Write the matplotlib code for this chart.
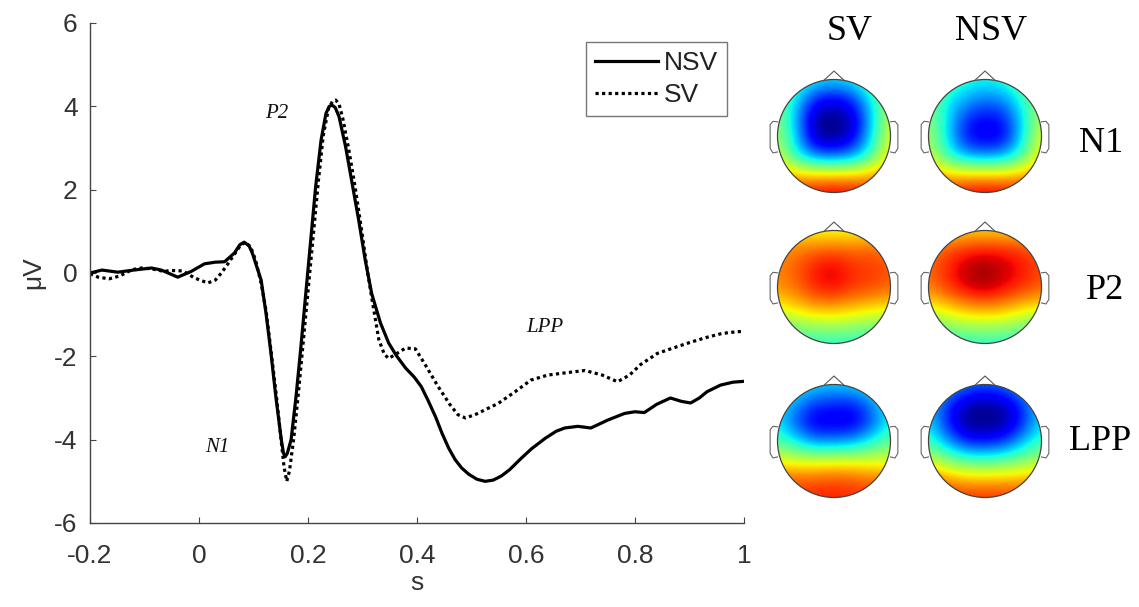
import matplotlib
matplotlib.use("Agg")
import numpy as np
import matplotlib.pyplot as plt
from matplotlib.patches import Circle
from matplotlib.path import Path
from matplotlib.patches import PathPatch

plt.rcParams['font.family'] = ['Liberation Sans', 'DejaVu Sans']
plt.rcParams['axes.unicode_minus'] = False

# ERP waveform, NSV (solid)
t_nsv = [-0.2, -0.178, -0.149, -0.12, -0.087, -0.069, -0.039, -0.014, 0.01, 0.03,
         0.047, 0.065, 0.075, 0.083, 0.092, 0.098, 0.106, 0.114, 0.123, 0.132,
         0.141, 0.151, 0.155, 0.158, 0.162, 0.169, 0.178, 0.187, 0.196, 0.205,
         0.214, 0.224, 0.233, 0.239, 0.244, 0.25, 0.257, 0.269, 0.281, 0.293,
         0.305, 0.317, 0.333, 0.348, 0.362, 0.379, 0.395, 0.408, 0.42, 0.434,
         0.446, 0.458, 0.47, 0.482, 0.495, 0.51, 0.525, 0.54, 0.555, 0.57,
         0.591, 0.61, 0.635, 0.655, 0.671, 0.695, 0.719, 0.75, 0.781, 0.8,
         0.817, 0.84, 0.865, 0.885, 0.902, 0.918, 0.932, 0.957, 0.98, 1.0]
v_nsv = [0.0, 0.07, 0.02, 0.07, 0.12, 0.07, -0.1, 0.04, 0.22, 0.26,
         0.27, 0.48, 0.68, 0.74, 0.65, 0.47, 0.15, -0.17, -0.97, -1.92,
         -2.97, -4.0, -4.32, -4.41, -4.33, -4.0, -2.97, -1.77, -0.48, 0.79,
         2.07, 3.19, 3.83, 4.0, 4.03, 3.97, 3.75, 3.03, 2.15, 1.27,
         0.31, -0.5, -1.2, -1.68, -1.98, -2.28, -2.5, -2.73, -3.05, -3.45,
         -3.85, -4.2, -4.48, -4.68, -4.83, -4.95, -5.0, -4.97, -4.87, -4.72,
         -4.45, -4.22, -3.97, -3.8, -3.72, -3.68, -3.72, -3.53, -3.37, -3.33,
         -3.35, -3.15, -3.0, -3.08, -3.12, -3.0, -2.85, -2.69, -2.62, -2.6]

# ERP waveform, SV (dotted)
t_sv = [-0.2, -0.185, -0.165, -0.145, -0.123, -0.105, -0.087, -0.065, -0.05, -0.03,
        -0.008, 0.016, 0.03, 0.041, 0.052, 0.065, 0.076, 0.085, 0.095, 0.104,
        0.114, 0.123, 0.132, 0.142, 0.151, 0.156, 0.161, 0.166, 0.174, 0.183,
        0.192, 0.201, 0.21, 0.219, 0.228, 0.238, 0.245, 0.251, 0.257, 0.264,
        0.275, 0.286, 0.297, 0.309, 0.317, 0.33, 0.34, 0.348, 0.361, 0.379,
        0.397, 0.415, 0.439, 0.46, 0.475, 0.489, 0.51, 0.53, 0.549, 0.58,
        0.609, 0.64, 0.67, 0.708, 0.74, 0.768, 0.79, 0.81, 0.841, 0.87,
        0.9, 0.93, 0.96, 0.987, 1.0]
v_sv = [-0.02, -0.1, -0.14, -0.07, 0.08, 0.12, 0.1, 0.04, 0.06, 0.05,
        -0.12, -0.24, -0.17, 0.0, 0.2, 0.45, 0.66, 0.74, 0.62, 0.3,
        -0.25, -0.9, -1.85, -2.95, -4.05, -4.65, -5.0, -4.75, -3.95, -2.8,
        -1.55, -0.3, 0.95, 2.2, 3.3, 3.97, 4.12, 4.15, 4.05, 3.7,
        2.95, 2.1, 1.15, 0.05, -0.6, -1.6, -1.95, -2.05, -1.95, -1.8,
        -1.82, -2.2, -2.73, -3.15, -3.4, -3.48, -3.38, -3.25, -3.13, -2.85,
        -2.57, -2.45, -2.4, -2.34, -2.45, -2.61, -2.45, -2.2, -1.93, -1.8,
        -1.67, -1.55, -1.45, -1.41, -1.4]

x_ticks = [-0.2, 0, 0.2, 0.4, 0.6, 0.8, 1]
x_ticklabels = ['-0.2', '0', '0.2', '0.4', '0.6', '0.8', '1']
y_ticks = [-6, -4, -2, 0, 2, 4, 6]

components = ['N1', 'P2', 'LPP']
component_pos = [(0.034, -4.2), (0.143, 3.84), (0.635, -1.32)]

# scalp maps, 7x7 grid, rows from front (top) to back, normalised -1..1
topo_sv_n1 = [[0.05, -0.1, -0.25, -0.3, -0.25, -0.05, 0.1],
              [0.0, -0.3, -0.7, -0.78, -0.65, -0.25, 0.1],
              [0.05, -0.4, -0.95, -1.0, -0.9, -0.35, 0.2],
              [0.1, -0.35, -0.95, -1.0, -0.85, -0.3, 0.25],
              [0.2, -0.25, -0.55, -0.6, -0.5, -0.15, 0.35],
              [0.5, 0.35, 0.35, 0.35, 0.35, 0.4, 0.5],
              [0.8, 0.78, 0.82, 0.85, 0.82, 0.78, 0.8]]
topo_nsv_n1 = [[0.05, -0.1, -0.2, -0.25, -0.2, -0.05, 0.1],
               [0.0, -0.25, -0.4, -0.5, -0.45, -0.2, 0.1],
               [0.05, -0.3, -0.65, -0.75, -0.7, -0.3, 0.15],
               [0.1, -0.3, -0.75, -0.85, -0.8, -0.3, 0.25],
               [0.2, -0.2, -0.45, -0.5, -0.45, -0.15, 0.35],
               [0.5, 0.35, 0.35, 0.35, 0.35, 0.4, 0.5],
               [0.8, 0.78, 0.82, 0.85, 0.82, 0.78, 0.8]]
topo_sv_p2 = [[0.3, 0.3, 0.25, 0.25, 0.25, 0.3, 0.35],
              [0.5, 0.55, 0.6, 0.62, 0.6, 0.62, 0.55],
              [0.55, 0.62, 0.78, 0.85, 0.72, 0.7, 0.65],
              [0.5, 0.6, 0.75, 0.82, 0.7, 0.68, 0.6],
              [0.3, 0.4, 0.5, 0.5, 0.45, 0.4, 0.35],
              [0.0, 0.05, 0.1, 0.12, 0.08, 0.02, 0.0],
              [-0.25, -0.2, -0.2, -0.2, -0.2, -0.2, -0.25]]
topo_nsv_p2 = [[0.35, 0.35, 0.35, 0.35, 0.35, 0.35, 0.35],
               [0.55, 0.65, 0.72, 0.76, 0.74, 0.7, 0.6],
               [0.6, 0.74, 0.9, 0.97, 0.88, 0.78, 0.68],
               [0.55, 0.7, 0.85, 0.92, 0.82, 0.72, 0.62],
               [0.3, 0.4, 0.5, 0.55, 0.5, 0.4, 0.35],
               [-0.05, 0.05, 0.12, 0.12, 0.12, 0.02, -0.05],
               [-0.25, -0.2, -0.2, -0.2, -0.2, -0.2, -0.25]]
topo_sv_lpp = [[-0.1, -0.2, -0.3, -0.32, -0.3, -0.2, -0.1],
               [-0.25, -0.45, -0.65, -0.68, -0.7, -0.5, -0.2],
               [-0.3, -0.6, -0.85, -0.82, -0.85, -0.6, -0.25],
               [-0.1, -0.3, -0.5, -0.5, -0.45, -0.25, -0.05],
               [0.25, 0.2, 0.2, 0.22, 0.22, 0.2, 0.2],
               [0.6, 0.62, 0.62, 0.65, 0.62, 0.58, 0.55],
               [0.72, 0.72, 0.75, 0.75, 0.75, 0.72, 0.72]]
topo_nsv_lpp = [[-0.2, -0.35, -0.5, -0.55, -0.5, -0.35, -0.2],
                [-0.35, -0.65, -0.9, -0.95, -0.9, -0.65, -0.3],
                [-0.3, -0.7, -1.0, -1.0, -0.98, -0.7, -0.3],
                [-0.15, -0.45, -0.72, -0.75, -0.68, -0.4, -0.15],
                [0.2, 0.0, -0.12, -0.15, -0.1, 0.0, 0.1],
                [0.62, 0.48, 0.42, 0.42, 0.42, 0.42, 0.48],
                [0.78, 0.75, 0.72, 0.72, 0.72, 0.72, 0.75]]

conditions = ['SV', 'NSV']
topo_maps = {('SV', 'N1'): topo_sv_n1, ('NSV', 'N1'): topo_nsv_n1,
             ('SV', 'P2'): topo_sv_p2, ('NSV', 'P2'): topo_nsv_p2,
             ('SV', 'LPP'): topo_sv_lpp, ('NSV', 'LPP'): topo_nsv_lpp}

W, H = 1139, 607
fig = plt.figure(figsize=(W / 100, H / 100), dpi=100)

# ---- waveform panel ----
ax = fig.add_axes([90 / W, 1 - 523 / H, 654 / W, 500 / H])
ax.plot(t_nsv, v_nsv, color='black', lw=2.3, label='NSV', solid_joinstyle='round')
ax.plot(t_sv, v_sv, color='black', lw=2.3, linestyle=(0, (1, 1.05)), label='SV')
ax.set_xlim(-0.2, 1)
ax.set_ylim(-6, 6)
ax.set_xticks(x_ticks)
ax.set_xticklabels(x_ticklabels)
ax.set_yticks(y_ticks)
for side in ['top', 'right']:
    ax.spines[side].set_visible(False)
for side in ['left', 'bottom']:
    ax.spines[side].set_color('#444444')
    ax.spines[side].set_linewidth(1.0)
ax.tick_params(axis='both', direction='in', length=4, color='#444444',
               labelsize=19, labelcolor='#333333')
ax.tick_params(axis='x', pad=15)
ax.tick_params(axis='y', pad=9)
ax.set_xlabel('s', fontsize=19, color='#333333', labelpad=2)
ax.set_ylabel('μV', fontsize=19, color='#333333', labelpad=6)

for name, (tx, ty) in zip(components, component_pos):
    ax.text(tx, ty, name, family=['Liberation Serif', 'DejaVu Serif'], style='italic',
            fontsize=15, ha='center', va='center', color='#111111')

leg = ax.legend(loc='upper right', bbox_to_anchor=(0.974, 0.962), borderaxespad=0,
                fontsize=19, frameon=True, fancybox=False, handlelength=2.4,
                handletextpad=0.2, labelspacing=0.3, borderpad=0.35)
leg.get_frame().set_edgecolor('#555555')
leg.get_frame().set_linewidth(1.0)
for txt in leg.get_texts():
    txt.set_color('#222222')

# ---- scalp maps ----
col_x = {'SV': 834, 'NSV': 985}
row_y = {'N1': 136, 'P2': 287, 'LPP': 441}
radius = 56.5
box = 75
lim = box / radius
ext = 1 + 1 / 6

for cond in conditions:
    for comp in components:
        cx, cy = col_x[cond], row_y[comp]
        tax = fig.add_axes([(cx - box) / W, 1 - (cy + box) / H, 2 * box / W, 2 * box / H])
        tax.set_xlim(-lim, lim)
        tax.set_ylim(-lim, lim)
        tax.set_aspect('equal')
        tax.axis('off')
        im = tax.imshow(np.array(topo_maps[(cond, comp)]), cmap='jet', vmin=-1, vmax=1,
                        extent=[-ext, ext, -ext, ext], interpolation='bicubic',
                        interpolation_stage='data', origin='upper')
        head = Circle((0, 0), 1.0, transform=tax.transData)
        im.set_clip_path(head)
        tax.add_patch(Circle((0, 0), 1.0, fill=False, ec='#444444', lw=0.9))
        # nose
        tax.plot([-0.18, 0, 0.18], [0.985, 1.15, 0.985], color='#555555', lw=0.8)
        # ears
        for s in (-1, 1):
            verts = [(s * 0.99, 0.25), (s * 1.08, 0.26), (s * 1.13, 0.2), (s * 1.13, -0.22),
                     (s * 1.08, -0.3), (s * 0.99, -0.28)]
            codes = [Path.MOVETO] + [Path.LINETO] * (len(verts) - 1)
            tax.add_patch(PathPatch(Path(verts, codes), fill=False, ec='#666666', lw=0.8))

serif = ['Liberation Serif', 'DejaVu Serif']
fig.text(850 / W, 1 - 31 / H, 'SV', family=serif, fontsize=26, ha='center', va='center')
fig.text(991 / W, 1 - 31 / H, 'NSV', family=serif, fontsize=26, ha='center', va='center')
label_pos = {'N1': (1101, 143), 'P2': (1105, 290), 'LPP': (1100, 442)}
for comp in components:
    lx, ly = label_pos[comp]
    fig.text(lx / W, 1 - ly / H, comp, family=serif, fontsize=26, ha='center', va='center')

fig.savefig('out.png', dpi=100)
